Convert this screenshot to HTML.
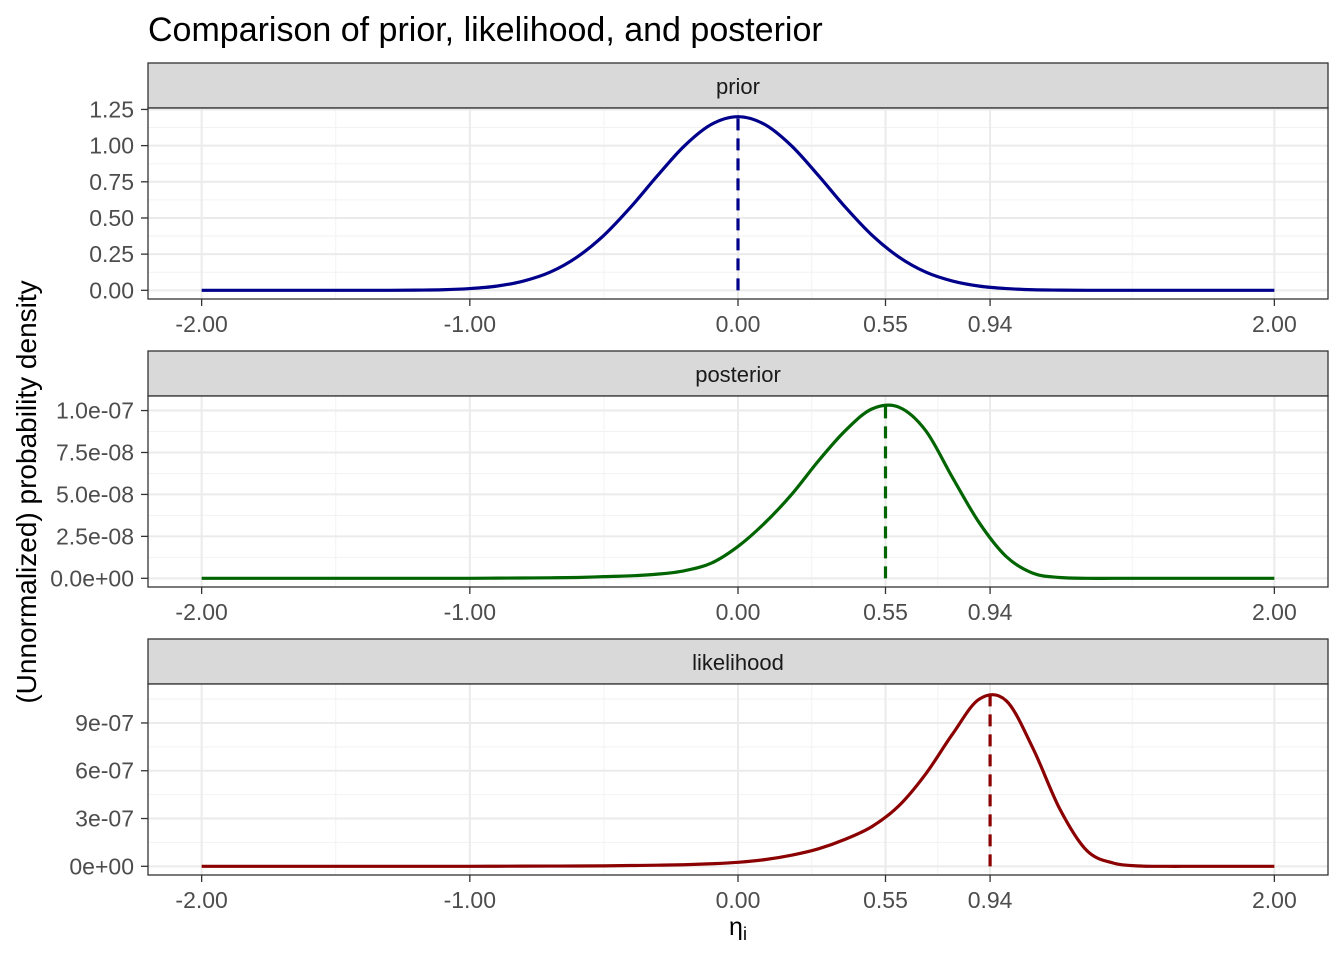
<!DOCTYPE html>
<html><head><meta charset="utf-8"><style>
body{margin:0;background:#fff;font-family:"Liberation Sans",Arial,sans-serif}
svg text{font-family:"Liberation Sans",Arial,sans-serif}
</style></head><body>
<svg id="chart" width="1344" height="960" xmlns="http://www.w3.org/2000/svg">
<text x="148" y="41" font-size="34" fill="#000">Comparison of prior, likelihood, and posterior</text>
<text transform="translate(36,492) rotate(-90)" text-anchor="middle" font-size="28" fill="#000">(Unnormalized) probability density</text>
<text x="738" y="935" text-anchor="middle" font-size="25" fill="#000">η<tspan font-size="18" dy="5">i</tspan></text>
<g id="panels"></g>
</svg>
<script>
const xGrid = [-2.0,-1.9,-1.8,-1.7,-1.6,-1.5,-1.4,-1.3,-1.2,-1.1,-1.0,-0.9,-0.8,-0.7,-0.6,-0.5,-0.4,-0.3,-0.2,-0.1,0.0,0.1,0.2,0.3,0.4,0.5,0.6,0.7,0.8,0.9,1.0,1.1,1.2,1.3,1.4,1.5,1.6,1.7,1.8,1.9,2.0];
const priorValues = [0,0,0,0,0,0,0,0,0.0015,0.004,0.012,0.029,0.064,0.126,0.23,0.38,0.575,0.793,0.998,1.146,1.2,1.146,0.998,0.793,0.575,0.38,0.23,0.126,0.064,0.029,0.012,0.004,0.0015,0,0,0,0,0,0,0,0];
const posteriorValues = [0,0,0,0,0,0,0,0,0,0,0,0.001e-7,0.002e-7,0.003e-7,0.005e-7,0.01e-7,0.015e-7,0.025e-7,0.045e-7,0.09e-7,0.19e-7,0.33e-7,0.5e-7,0.7e-7,0.88e-7,1.01e-7,1.02e-7,0.88e-7,0.6e-7,0.33e-7,0.13e-7,0.03e-7,0.005e-7,0,0,0,0,0,0,0,0];
const likelihoodValues = [0,0,0,0,0,0,0,0,0,0,0,0.005e-7,0.01e-7,0.015e-7,0.02e-7,0.03e-7,0.05e-7,0.07e-7,0.1e-7,0.16e-7,0.25e-7,0.42e-7,0.7e-7,1.1e-7,1.7e-7,2.5e-7,3.8e-7,5.8e-7,8.3e-7,10.5e-7,10.4e-7,7.4e-7,3.6e-7,1.0e-7,0.2e-7,0.02e-7,0,0,0,0,0];
const peakLocations = [0.0, 0.55, 0.94];
const peakValues = [1.2, 1.035e-7, 1.09e-6];
const panelNames = ["prior","posterior","likelihood"];
const xTicks = [-2.0,-1.0,0.0,0.55,0.94,2.0];
const xTickLabels = ["-2.00","-1.00","0.00","0.55","0.94","2.00"];
const priorTicks = [0,0.25,0.5,0.75,1.0,1.25];
const priorTickLabels = ["0.00","0.25","0.50","0.75","1.00","1.25"];
const posteriorTicks = [0,2.5e-8,5e-8,7.5e-8,1e-7];
const posteriorTickLabels = ["0.0e+00","2.5e-08","5.0e-08","7.5e-08","1.0e-07"];
const likelihoodTicks = [0,3e-7,6e-7,9e-7];
const likelihoodTickLabels = ["0e+00","3e-07","6e-07","9e-07"];

const NS="http://www.w3.org/2000/svg";
const colors=["#00008B","#006400","#8B0000"];
const series=[priorValues,posteriorValues,likelihoodValues];
const yticks=[priorTicks,posteriorTicks,likelihoodTicks];
const ylabels=[priorTickLabels,posteriorTickLabels,likelihoodTickLabels];
const L=148,R=1328,tops=[63,351,639],stripH=45,plotH=191;
const xMin=-2.2,xMax=2.2;
const xs=v=>L+(v-xMin)/(xMax-xMin)*(R-L);
function mk(tag,attrs,parent){const e=document.createElementNS(NS,tag);for(const k in attrs)e.setAttribute(k,attrs[k]);parent.appendChild(e);return e;}
const root=document.getElementById('panels');
for(let p=0;p<3;p++){
  const g=mk('g',{},root);
  
  
  const top=tops[p]+stripH,bot=top+plotH;
  const vals=series[p];const mx=Math.max(...vals,peakValues[p]);
  const y0=-0.05*mx,y1=1.05*mx;
  const ys=v=>bot-(v-y0)/(y1-y0)*plotH;
  const strip=mk('rect',{x:L,y:tops[p],width:R-L,height:stripH,fill:'#d9d9d9',stroke:'#333','stroke-width':1.3},g);
  
  
  const st=mk('text',{x:(L+R)/2,y:tops[p]+31,'text-anchor':'middle','font-size':22,fill:'#1a1a1a'},g);st.textContent=panelNames[p];
  
  
  mk('rect',{x:L,y:top,width:R-L,height:plotH,fill:'#fff'},g);
  const yt=yticks[p];
  for(let i=0;i<yt.length-1;i++){const m=(yt[i]+yt[i+1])/2;mk('line',{x1:L,x2:R,y1:ys(m),y2:ys(m),stroke:'#f2f2f2','stroke-width':1},g);}
  {const st2=yt[1]-yt[0];const m=yt[yt.length-1]+st2/2;if(ys(m)>top)mk('line',{x1:L,x2:R,y1:ys(m),y2:ys(m),stroke:'#f2f2f2','stroke-width':1},g);}
  for(let i=0;i<xTicks.length-1;i++){const m=(xTicks[i]+xTicks[i+1])/2;mk('line',{x1:xs(m),x2:xs(m),y1:top,y2:bot,stroke:'#f2f2f2','stroke-width':1},g);}
  yt.forEach((t,i)=>{mk('line',{x1:L,x2:R,y1:ys(t),y2:ys(t),stroke:'#ebebeb','stroke-width':2},g);
    mk('line',{x1:L-7,x2:L,y1:ys(t),y2:ys(t),stroke:'#333','stroke-width':1.3},g);
    const tx=mk('text',{x:L-14,y:ys(t)+8,'text-anchor':'end','font-size':23,fill:'#4d4d4d'},g);tx.textContent=ylabels[p][i];
    
    });
  xTicks.forEach((t,i)=>{mk('line',{x1:xs(t),x2:xs(t),y1:top,y2:bot,stroke:'#ebebeb','stroke-width':2},g);
    mk('line',{x1:xs(t),x2:xs(t),y1:bot,y2:bot+7,stroke:'#333','stroke-width':1.3},g);
    const tx=mk('text',{x:xs(t),y:bot+33,'text-anchor':'middle','font-size':23,fill:'#4d4d4d'},g);tx.textContent=xTickLabels[i];
    
    });
  const pts=xGrid.map((x,i)=>[xs(x),ys(vals[i])]);
  let d='M'+pts[0][0]+','+pts[0][1];
  for(let i=0;i<pts.length-1;i++){const p0=pts[Math.max(0,i-1)],p1=pts[i],p2=pts[i+1],p3=pts[Math.min(pts.length-1,i+2)];
    d+=' C'+(p1[0]+(p2[0]-p0[0])/6)+','+(p1[1]+(p2[1]-p0[1])/6)+' '+(p2[0]-(p3[0]-p1[0])/6)+','+(p2[1]-(p3[1]-p1[1])/6)+' '+p2[0]+','+p2[1];}
  const c=mk('path',{d:d,fill:'none',stroke:colors[p],'stroke-width':3.2,'stroke-linejoin':'round'},g);
  
  
  const v=mk('line',{x1:xs(peakLocations[p]),x2:xs(peakLocations[p]),y1:ys(0),y2:ys(peakValues[p]),stroke:colors[p],'stroke-width':3.2,'stroke-dasharray':'12,8'},g);
  
  
  mk('rect',{x:L,y:top,width:R-L,height:plotH,fill:'none',stroke:'#333','stroke-width':1.3},g);
}
</script>
</body></html>
